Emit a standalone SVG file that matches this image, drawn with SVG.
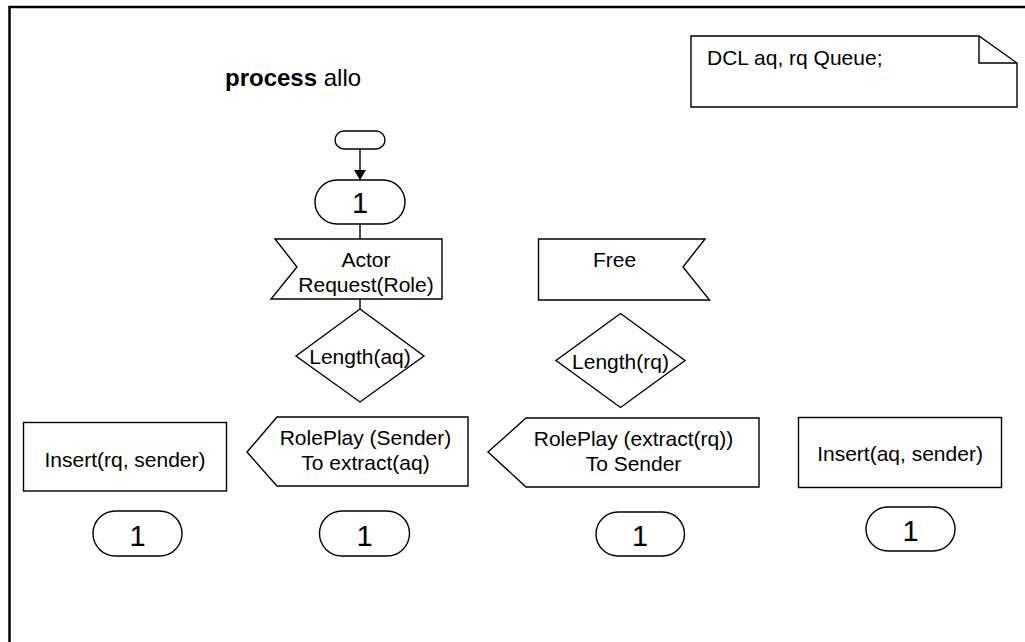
<svg xmlns="http://www.w3.org/2000/svg" width="1025" height="642" viewBox="0 0 1025 642">
  <style>
    .shape { fill: #ffffff; stroke: #000000; stroke-width: 1.4; }
    .edge { fill: none; stroke: #000000; stroke-width: 1.4; }
    .frame { fill: none; stroke: #000000; stroke-width: 2.5; }
    .t { font-family: "Liberation Sans", Arial, sans-serif; font-size: 21px; fill: #000000; text-anchor: middle; }
    .num { font-family: "Liberation Sans", Arial, sans-serif; font-size: 29px; fill: #000000; text-anchor: middle; }
    .title { font-family: "Liberation Sans", Arial, sans-serif; font-size: 24px; fill: #000000; }
  </style>
  <defs>
    <marker id="arrow" markerWidth="10" markerHeight="12" refX="10" refY="6" orient="auto" markerUnits="userSpaceOnUse">
      <path d="M0,0 L10,6 L0,12 Z" fill="#000000"/>
    </marker>
  </defs>

  <rect width="1025" height="642" fill="#ffffff"/>

  <!-- process frame (open at right and bottom) -->
  <path class="frame" d="M9.5,642 L9.5,7 L1025,7"/>

  <text class="title" x="225" y="86"><tspan font-weight="bold">process</tspan> allo</text>

  <!-- declaration note -->
  <g id="note">
    <path class="shape" d="M691,36 L979,36 L1017,63 L1017,107 L691,107 Z"/>
    <path class="edge" d="M979,36 L979,63 L1017,63"/>
    <text class="t" x="707" y="64.5" style="text-anchor:start">DCL aq, rq Queue;</text>
  </g>

  <!-- connectors -->
  <g id="connectors">
    <line class="edge" x1="360" y1="149" x2="360" y2="180" marker-end="url(#arrow)"/>
    <line class="edge" x1="360" y1="224" x2="360" y2="239"/>
    <line class="edge" x1="360" y1="299" x2="360" y2="309"/>
  </g>

  <g id="start">
    <rect class="shape" x="335" y="131" width="50" height="18" rx="9" ry="9"/>
  </g>

  <g id="label-top">
    <rect class="shape" x="315" y="180" width="90" height="44" rx="22" ry="22"/>
    <text class="num" x="360" y="213">1</text>
  </g>

  <g id="actor-request">
    <polygon class="shape" points="275,239 442,239 442,299 271,299 297,267"/>
    <text class="t" x="366" y="266.5">Actor</text>
    <text class="t" x="366" y="291.5">Request(Role)</text>
  </g>

  <g id="length-aq">
    <polygon class="shape" points="360,309 424,356 360,402 296,356"/>
    <text class="t" x="360" y="364">Length(aq)</text>
  </g>

  <g id="roleplay-sender">
    <polygon class="shape" points="247,452 277,417 468,417 468,486 277,486"/>
    <text class="t" x="365.5" y="445">RolePlay (Sender)</text>
    <text class="t" x="365.5" y="470">To extract(aq)</text>
  </g>

  <g id="insert-rq">
    <rect class="shape" x="23.5" y="422.5" width="203" height="68.5"/>
    <text class="t" x="125" y="466.5">Insert(rq, sender)</text>
  </g>

  <g id="label-1a">
    <rect class="shape" x="93" y="511" width="89" height="45" rx="22.5" ry="22.5"/>
    <text class="num" x="137.5" y="545.5">1</text>
  </g>

  <g id="label-1b">
    <rect class="shape" x="319.5" y="511" width="90" height="45" rx="22.5" ry="22.5"/>
    <text class="num" x="364.5" y="545.5">1</text>
  </g>

  <g id="free">
    <polygon class="shape" points="538.5,239 705,239 683,267 709.5,300 538.5,300"/>
    <text class="t" x="614.5" y="266.5">Free</text>
  </g>

  <g id="length-rq">
    <polygon class="shape" points="620.5,313.5 685,360.5 620.5,407.5 556,360.5"/>
    <text class="t" x="620.5" y="369">Length(rq)</text>
  </g>

  <g id="roleplay-extract">
    <polygon class="shape" points="488,452 526,418 759,418 759,487 526,487"/>
    <text class="t" x="633.5" y="445.5">RolePlay (extract(rq))</text>
    <text class="t" x="633.5" y="470.5">To Sender</text>
  </g>

  <g id="insert-aq">
    <rect class="shape" x="798.5" y="417.5" width="203" height="70"/>
    <text class="t" x="900" y="461">Insert(aq, sender)</text>
  </g>

  <g id="label-1c">
    <rect class="shape" x="596" y="512" width="88.5" height="44" rx="22" ry="22"/>
    <text class="num" x="640" y="546">1</text>
  </g>

  <g id="label-1d">
    <rect class="shape" x="866" y="507" width="89" height="44" rx="22" ry="22"/>
    <text class="num" x="910.5" y="540.5">1</text>
  </g>
</svg>
